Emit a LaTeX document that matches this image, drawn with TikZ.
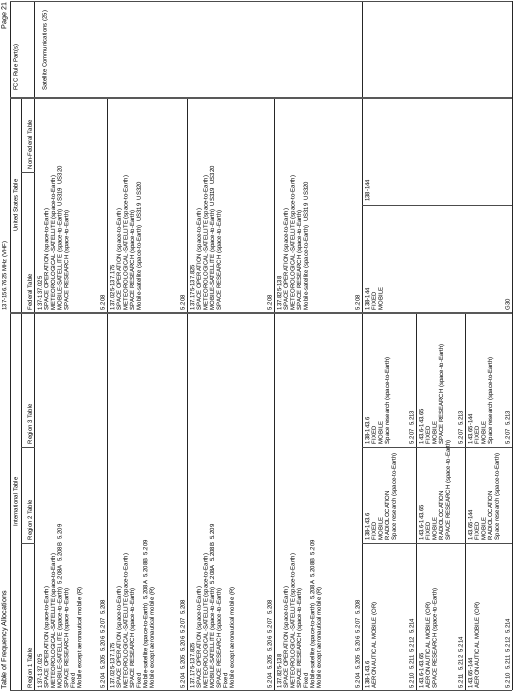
\documentclass[tikz,border=0pt]{standalone}
\usepackage{fontspec}
\setmainfont{Liberation Sans}
\begin{document}
\begin{tikzpicture}[x=1pt,y=1pt,
  cell/.style={inner sep=0pt, anchor=north west, align=left, font=\fontsize{6}{6.6}\selectfont, transform shape},
  notes/.style={inner sep=0pt, anchor=base west, font=\fontsize{6}{6.6}\selectfont, transform shape},
  hdl/.style={inner sep=0pt, anchor=base west, font=\fontsize{6}{6.6}\selectfont, transform shape},
  hdc/.style={inner sep=0pt, anchor=base, font=\fontsize{6}{6.6}\selectfont, transform shape},
  ttl/.style={inner sep=0pt, font=\fontsize{7.2}{8}\selectfont, transform shape},
  rowln/.style={draw=black!85, line width=0.65pt},
  colln/.style={draw=black!70, line width=0.8pt},
  dblln/.style={draw=black!65, line width=1.4pt}]
\useasboundingbox (0,0) rectangle (513,691);
\begin{scope}[rotate=90]
% ---------- title line ----------
\node[ttl, anchor=base west] (title) at (1.5,-6.3) {Table of Frequency Allocations};
\node[hdc] (band) at (415,-6.3) {137-156.7625 MHz (VHF)};
\node[ttl, anchor=base east] (page) at (689,-6.3) {Page 21};
% ---------- frame and rules ----------
\draw[rowln] (0.5,-10) -- (690,-10);
\draw[rowln] (0.5,-21) -- (593,-21);
\draw[rowln] (0.5,-34.5) -- (690,-34.5);
\draw[rowln] (0.5,-107) -- (593,-107);
\draw[rowln] (0.5,-187) -- (593,-187);
\draw[rowln] (0.5,-274) -- (593,-274);
\draw[rowln] (0.5,-362) -- (690,-362);
\draw[rowln] (0.5,-416) -- (378,-416);
\draw[rowln] (0.5,-465) -- (378,-465);
\draw[rowln] (0.5,-512) -- (690,-512);
\draw[colln] (0.5,-10) -- (0.5,-512);
\draw[colln] (690,-10) -- (690,-512);
\draw[dblln] (378,-10) -- (378,-512);
\draw[dblln] (593,-10) -- (593,-512);
\draw[colln] (148,-21) -- (148,-34.5);
\draw[colln] (244,-21) -- (244,-34.5);
\draw[colln] (519,-21) -- (519,-34.5);
\draw[colln] (148,-362) -- (148,-512);
\draw[colln] (244,-362) -- (244,-512);
\draw[colln] (486,-362) -- (486,-512);
% ---------- headers ----------
\node[hdc] (hint) at (189,-17.6) {International Table};
\node[hdc] (hus) at (485.5,-17.6) {United States Table};
\node[hdl] (hfcc) at (600,-17.6) {FCC Rule Part(s)};
\node[hdl] (hr1) at (2.5,-32) {Region 1 Table};
\node[hdl] (hr2) at (150.5,-32) {Region 2 Table};
\node[hdl] (hr3) at (246.5,-32) {Region 3 Table};
\node[hdl] (hfed) at (380.5,-32) {Federal Table};
\node[hdl] (hnf) at (521.5,-32) {Non-Federal Table};
% ---------- row 1 ----------
\node[cell] (a1) at (2.5,-37.5) {137-137.025\\SPACE OPERATION (space-to-Earth)\\METEOROLOGICAL-SATELLITE (space-to-Earth)\\MOBILE-SATELLITE (space-to-Earth)~~5.208A~~5.208B~~5.209\\SPACE RESEARCH (space-to-Earth)\\Fixed\\Mobile except aeronautical mobile (R)};
\node[notes] (a1n) at (2.5,-104.5) {5.204~~5.205~~5.206~~5.207~~5.208};
\node[cell] (u1) at (380.5,-37.5) {137-137.025\\SPACE OPERATION (space-to-Earth)\\METEOROLOGICAL-SATELLITE (space-to-Earth)\\MOBILE-SATELLITE (space-to-Earth)~~US319~~US320\\SPACE RESEARCH (space-to-Earth)};
\node[notes] (u1n) at (380.5,-104.5) {5.208};
\node[cell] (fcc1) at (600,-42) {Satellite Communications (25)};
% ---------- row 2 ----------
\node[cell] (a2) at (2.5,-110) {137.025-137.175\\SPACE OPERATION (space-to-Earth)\\METEOROLOGICAL-SATELLITE (space-to-Earth)\\SPACE RESEARCH (space-to-Earth)\\Fixed\\Mobile-satellite (space-to-Earth)~~5.208A~~5.208B~~5.209\\Mobile except aeronautical mobile (R)};
\node[notes] (a2n) at (2.5,-184.5) {5.204~~5.205~~5.206~~5.207~~5.208};
\node[cell] (u2) at (380.5,-110) {137.025-137.175\\SPACE OPERATION (space-to-Earth)\\METEOROLOGICAL-SATELLITE (space-to-Earth)\\SPACE RESEARCH (space-to-Earth)\\Mobile-satellite (space-to-Earth)~~US319~~US320};
\node[notes] (u2n) at (380.5,-184.5) {5.208};
% ---------- row 3 ----------
\node[cell] (a3) at (2.5,-190) {137.175-137.825\\SPACE OPERATION (space-to-Earth)\\METEOROLOGICAL-SATELLITE (space-to-Earth)\\MOBILE-SATELLITE (space-to-Earth)~~5.208A~~5.208B~~5.209\\SPACE RESEARCH (space-to-Earth)\\Fixed\\Mobile except aeronautical mobile (R)};
\node[notes] (a3n) at (2.5,-271.5) {5.204~~5.205~~5.206~~5.207~~5.208};
\node[cell] (u3) at (380.5,-190) {137.175-137.825\\SPACE OPERATION (space-to-Earth)\\METEOROLOGICAL-SATELLITE (space-to-Earth)\\MOBILE-SATELLITE (space-to-Earth)~~US319~~US320\\SPACE RESEARCH (space-to-Earth)};
\node[notes] (u3n) at (380.5,-271.5) {5.208};
% ---------- row 4 ----------
\node[cell] (a4) at (2.5,-277) {137.825-138\\SPACE OPERATION (space-to-Earth)\\METEOROLOGICAL-SATELLITE (space-to-Earth)\\SPACE RESEARCH (space-to-Earth)\\Fixed\\Mobile-satellite (space-to-Earth)~~5.208A~~5.208B~~5.209\\Mobile except aeronautical mobile (R)};
\node[notes] (a4n) at (2.5,-359.5) {5.204~~5.205~~5.206~~5.207~~5.208};
\node[cell] (u4) at (380.5,-277) {137.825-138\\SPACE OPERATION (space-to-Earth)\\METEOROLOGICAL-SATELLITE (space-to-Earth)\\SPACE RESEARCH (space-to-Earth)\\Mobile-satellite (space-to-Earth)~~US319~~US320};
\node[notes] (u4n) at (380.5,-359.5) {5.208};
% ---------- row 5 ----------
\node[cell] (r15) at (2.5,-365) {138-143.6\\AERONAUTICAL MOBILE (OR)};
\node[notes] (r15n) at (2.5,-413.5) {5.210~~5.211~~5.212~~5.214};
\node[cell] (r25) at (150.5,-365) {138-143.6\\FIXED\\MOBILE\\RADIOLOCATION\\Space research (space-to-Earth)};
\node[cell] (r35) at (246.5,-365) {138-143.6\\FIXED\\MOBILE\\Space research (space-to-Earth)};
\node[notes] (r35n) at (246.5,-413.5) {5.207~~5.213};
% ---------- row 6 ----------
\node[cell] (r16) at (2.5,-419) {143.6-143.65\\AERONAUTICAL MOBILE (OR)\\SPACE RESEARCH (space-to-Earth)};
\node[notes] (r16n) at (2.5,-462.5) {5.211~~5.212~~5.214};
\node[cell] (r26) at (150.5,-419) {143.6-143.65\\FIXED\\MOBILE\\RADIOLOCATION\\SPACE RESEARCH (space-to-Earth)};
\node[cell] (r36) at (246.5,-419) {143.6-143.65\\FIXED\\MOBILE\\SPACE RESEARCH (space-to-Earth)};
\node[notes] (r36n) at (246.5,-462.5) {5.207~~5.213};
% ---------- row 7 ----------
\node[cell] (r17) at (2.5,-468) {143.65-144\\AERONAUTICAL MOBILE (OR)};
\node[notes] (r17n) at (2.5,-509.5) {5.210~~5.211~~5.212~~5.214};
\node[cell] (r27) at (150.5,-468) {143.65-144\\FIXED\\MOBILE\\RADIOLOCATION\\Space research (space-to-Earth)};
\node[cell] (r37) at (246.5,-468) {143.65-144\\FIXED\\MOBILE\\Space research (space-to-Earth)};
\node[notes] (r37n) at (246.5,-509.5) {5.207~~5.213};
% ---------- US rows 5-7 ----------
\node[cell] (u5) at (380.5,-365) {138-144\\FIXED\\MOBILE};
\node[notes] (u5n) at (380.5,-509.5) {G30};
\node[cell] (nf5) at (489,-365) {138-144};
\end{scope}
\end{tikzpicture}
\end{document}
